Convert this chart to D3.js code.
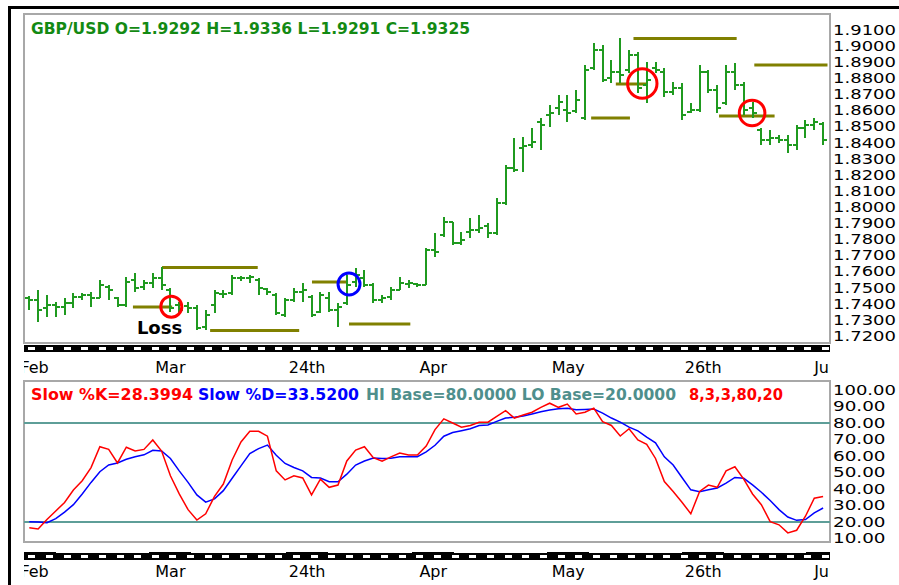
<!DOCTYPE html>
<html>
<head>
<meta charset="utf-8">
<script src="https://cdn.jsdelivr.net/npm/d3@7"></script>
<style>
  body { margin: 0; background: #fff; }
  svg { display: block; }
  text { font-family: "DejaVu Sans", Verdana, sans-serif; }
</style>
</head>
<body>
<svg id="chart"></svg>
<script>
// GBP/USD daily bars (bar index 0 .. 90)
const opens = [
  1.7436, 1.7423, 1.7374, 1.7392, 1.7380, 1.7405, 1.7442, 1.7455, 1.7436, 1.7504,
  1.7436, 1.7392, 1.7548, 1.7504, 1.7529, 1.7560, 1.7486, 1.7392, 1.7386, 1.7374,
  1.7256, 1.7392, 1.7461, 1.7467, 1.7560, 1.7560, 1.7548, 1.7492, 1.7455, 1.7330,
  1.7423, 1.7473, 1.7442, 1.7349, 1.7436, 1.7361, 1.7405, 1.7535, 1.7560, 1.7517,
  1.7423, 1.7442, 1.7486, 1.7523, 1.7523, 1.7517, 1.7734, 1.7827, 1.7908, 1.7777,
  1.7846, 1.7858, 1.7883, 1.7839, 1.8026, 1.8243, 1.8367, 1.8386, 1.8529, 1.8572,
  1.8616, 1.8603, 1.8597, 1.8554, 1.8864, 1.8976, 1.8802, 1.8839, 1.8852, 1.8945,
  1.8759, 1.8864, 1.8839, 1.8715, 1.8740, 1.8591, 1.8603, 1.8839, 1.8727, 1.8647,
  1.8839, 1.8759, 1.8616, 1.8479, 1.8417, 1.8429, 1.8417, 1.8386, 1.8491, 1.8510,
  1.8516
];
const highs = [
  1.7448, 1.7486, 1.7455, 1.7411, 1.7436, 1.7467, 1.7467, 1.7473, 1.7548, 1.7517,
  1.7442, 1.7566, 1.7591, 1.7548, 1.7591, 1.7628, 1.7498, 1.7411, 1.7411, 1.7392,
  1.7361, 1.7486, 1.7486, 1.7579, 1.7572, 1.7579, 1.7560, 1.7498, 1.7467, 1.7436,
  1.7498, 1.7529, 1.7455, 1.7473, 1.7473, 1.7405, 1.7579, 1.7622, 1.7610, 1.7529,
  1.7455, 1.7504, 1.7566, 1.7548, 1.7529, 1.7746, 1.7839, 1.7939, 1.7908, 1.7846,
  1.7933, 1.7951, 1.7902, 1.8057, 1.8262, 1.8429, 1.8436, 1.8491, 1.8554, 1.8634,
  1.8696, 1.8696, 1.8727, 1.8883, 1.9019, 1.9007, 1.8914, 1.9050, 1.8976, 1.8963,
  1.8901, 1.8901, 1.8864, 1.8777, 1.8771, 1.8647, 1.8883, 1.8852, 1.8759, 1.8883,
  1.8895, 1.8777, 1.8653, 1.8491, 1.8479, 1.8448, 1.8448, 1.8510, 1.8541, 1.8554,
  1.8529
];
const lows = [
  1.7361, 1.7287, 1.7318, 1.7318, 1.7330, 1.7374, 1.7423, 1.7380, 1.7436, 1.7423,
  1.7380, 1.7380, 1.7473, 1.7486, 1.7498, 1.7486, 1.7349, 1.7343, 1.7343, 1.7237,
  1.7237, 1.7343, 1.7436, 1.7455, 1.7542, 1.7529, 1.7455, 1.7455, 1.7330, 1.7318,
  1.7411, 1.7411, 1.7318, 1.7343, 1.7349, 1.7256, 1.7392, 1.7504, 1.7504, 1.7405,
  1.7405, 1.7423, 1.7486, 1.7498, 1.7504, 1.7517, 1.7690, 1.7815, 1.7765, 1.7765,
  1.7808, 1.7839, 1.7808, 1.7827, 1.8013, 1.8218, 1.8218, 1.8367, 1.8355, 1.8498,
  1.8572, 1.8529, 1.8585, 1.8541, 1.8852, 1.8777, 1.8771, 1.8771, 1.8833, 1.8709,
  1.8647, 1.8833, 1.8684, 1.8696, 1.8541, 1.8585, 1.8591, 1.8709, 1.8585, 1.8634,
  1.8727, 1.8572, 1.8554, 1.8386, 1.8386, 1.8398, 1.8336, 1.8355, 1.8429, 1.8479,
  1.8386
];
const closes = [
  1.7423, 1.7361, 1.7392, 1.7380, 1.7405, 1.7442, 1.7455, 1.7436, 1.7517, 1.7486,
  1.7392, 1.7535, 1.7498, 1.7529, 1.7560, 1.7517, 1.7374, 1.7361, 1.7374, 1.7249,
  1.7330, 1.7467, 1.7461, 1.7560, 1.7560, 1.7566, 1.7498, 1.7473, 1.7343, 1.7423,
  1.7473, 1.7486, 1.7330, 1.7455, 1.7361, 1.7380, 1.7517, 1.7579, 1.7517, 1.7423,
  1.7436, 1.7486, 1.7529, 1.7529, 1.7517, 1.7734, 1.7721, 1.7908, 1.7777, 1.7796,
  1.7858, 1.7871, 1.7839, 1.8026, 1.8243, 1.8231, 1.8380, 1.8405, 1.8510, 1.8585,
  1.8653, 1.8585, 1.8665, 1.8852, 1.8976, 1.8790, 1.8839, 1.8821, 1.8945, 1.8740,
  1.8790, 1.8852, 1.8715, 1.8740, 1.8572, 1.8603, 1.8839, 1.8727, 1.8616, 1.8839,
  1.8759, 1.8603, 1.8585, 1.8417, 1.8429, 1.8417, 1.8386, 1.8491, 1.8510, 1.8529,
  1.8417
];

// slow stochastic 8,3,3
const slowK = [
  16.5, 15.8, 21.5, 26.7, 31.8, 39.4, 45, 53, 65.6, 64,
  55.8, 65.3, 63, 64, 69.7, 63, 48, 37, 27.5, 21.2,
  25, 35.5, 43, 57.6, 68.5, 75, 75, 72, 51, 45.5,
  48, 46.7, 36.4, 46, 41, 42.4, 57, 63.6, 65.6, 59,
  56.8, 59.5, 61.8, 60.6, 60.6, 66, 76, 82.5, 80, 77.5,
  78.5, 80.5, 80.5, 84, 87.5, 83, 84.8, 86.5, 89.5, 92,
  89.5, 91.5, 85.5, 86.5, 89, 80.8, 78.5, 72.1, 76.5, 69.7,
  67, 58.5, 44.5, 38.5, 32, 25, 38.5, 42.4, 41, 51,
  53.5, 46, 37, 30.5, 20.2, 18.3, 13.4, 15, 23.5, 34.4,
  35.5
];
const slowD = [
  20.2, 20, 19.6, 22, 26, 30.5, 37, 44, 50.5, 54.6,
  55.8, 58, 59.5, 60.7, 63.5, 63, 58.5, 51, 44, 36.4,
  32, 34, 39, 46.5, 54, 61.5, 64.5, 66.6, 60.5, 55.5,
  53, 51, 47, 46.7, 44.4, 44.4, 49, 54.5, 57, 58.8,
  58.5, 58.7, 59.6, 59.6, 59.6, 62.5, 66.5, 72, 74.2, 75.3,
  76.5, 78.5, 78.8, 81, 83, 83.5, 84.3, 85.5, 86.8, 87.9,
  88.6, 89, 88, 88.2, 88.5, 86, 83, 80.5, 77.5, 75.2,
  71.5, 68, 59.5, 54.5, 47, 39.5, 38.4, 39.5, 40.6, 43.5,
  47, 46.5, 42.5, 38, 33, 27.5, 23, 21, 21.5, 25.5,
  28.5
];
const hiBase = 80, loBase = 20;

const dateLabels = ['Feb', 'Mar', '24th', 'Apr', 'May', '26th', 'Jun'];
const datePos = [0.6, 16, 31.5, 45.8, 61.1, 76.4, 90.4];   // in bar index
const priceTicks = [1.91, 1.90, 1.89, 1.88, 1.87, 1.86, 1.85, 1.84, 1.83, 1.82, 1.81, 1.80,
  1.79, 1.78, 1.77, 1.76, 1.75, 1.74, 1.73, 1.72];
const stochTicks = [100, 90, 80, 70, 60, 50, 40, 30, 20, 10];

// olive support / resistance levels drawn by hand on the chart
const levelFrom = [11.75, 15.05, 20.5, 32.05, 36.25, 63.7, 66.5, 68.5, 78.2, 82.2];
const levelTo = [16.2, 25.9, 30.6, 36.0, 43.2, 68.1, 70.1, 80.2, 84.5, 90.5];
const levelPrice = [1.7380, 1.7625, 1.7234, 1.7535, 1.7274, 1.8554, 1.8765, 1.9047, 1.8566, 1.8883];

// ringed bars
const markAt = [16.1, 36.25, 69.5, 81.95];
const markPrice = [1.7382, 1.7523, 1.8768, 1.8585];
const markStyle = [
  { color: '#ff0000', r: 10.5 },
  { color: '#0000ff', r: 11 },
  { color: '#ff0000', r: 14.7 },
  { color: '#ff0000', r: 12.8 }
];

const width = 899, height = 585;
const plotLeft = 24, plotRight = 830;
const priceTop = 14, priceBottom = 343;
const stochTop = 381, stochBottom = 542;
const barColor = '#1f9a1f';
const olive = '#808000';
const teal = '#5e9e98';

const x = d3.scaleLinear().domain([0, 90]).range([29.3, 823.1]);
const y = d3.scaleLinear().domain([1.72, 1.91]).range([336, 30]);
const yS = d3.scaleLinear().domain([10, 100]).range([538.5, 390]);

const svg = d3.select('#chart')
  .attr('width', width)
  .attr('height', height)
  .attr('viewBox', [0, 0, width, height]);

const defs = svg.append('defs');
defs.append('clipPath').attr('id', 'clipPrice').append('rect')
  .attr('x', plotLeft).attr('y', priceTop).attr('width', plotRight - plotLeft).attr('height', priceBottom - priceTop);
defs.append('clipPath').attr('id', 'clipStoch').append('rect')
  .attr('x', plotLeft).attr('y', stochTop).attr('width', plotRight - plotLeft).attr('height', stochBottom - stochTop);
defs.append('clipPath').attr('id', 'clipDates').append('rect')
  .attr('x', plotLeft).attr('y', 0).attr('width', plotRight - plotLeft).attr('height', height);

// black frame, only left and top edges show
svg.append('rect').attr('x', 8).attr('y', 6).attr('width', 3).attr('height', height - 6).attr('fill', '#000');
svg.append('rect').attr('x', 8).attr('y', 6).attr('width', width - 8).attr('height', 3).attr('fill', '#000');

function panel(top, bottom) {
  svg.append('rect')
    .attr('x', plotLeft).attr('y', top)
    .attr('width', plotRight - plotLeft).attr('height', bottom - top)
    .attr('fill', '#fff').attr('stroke', '#a8a8a8').attr('stroke-width', 2);
}
panel(priceTop, priceBottom);
panel(stochTop, stochBottom);

/** ########## PRICE PANEL ########## */
const bars = d3.range(opens.length).map((i) => ({ i, o: opens[i], h: highs[i], l: lows[i], c: closes[i] }));

const gPrice = svg.append('g').attr('clip-path', 'url(#clipPrice)');

gPrice.append('g')
  .attr('stroke', olive).attr('stroke-width', 3)
  .selectAll('line')
  .data(levelPrice)
  .join('line')
  .attr('x1', (d, i) => x(levelFrom[i]))
  .attr('x2', (d, i) => x(levelTo[i]))
  .attr('y1', (d) => y(d))
  .attr('y2', (d) => y(d));

gPrice.append('g')
  .attr('stroke', barColor).attr('stroke-width', 2).attr('fill', 'none')
  .attr('shape-rendering', 'crispEdges')
  .selectAll('path')
  .data(bars)
  .join('path')
  .attr('d', (d) => {
    const cx = Math.round(x(d.i));
    return `M${cx},${y(d.h)}V${y(d.l)}M${cx - 4},${Math.round(y(d.o))}H${cx}M${cx},${Math.round(y(d.c))}H${cx + 4}`;
  });

gPrice.append('g')
  .attr('fill', 'none').attr('stroke-width', 3)
  .selectAll('circle')
  .data(markPrice)
  .join('circle')
  .attr('cx', (d, i) => x(markAt[i]))
  .attr('cy', (d) => y(d))
  .attr('r', (d, i) => markStyle[i].r)
  .attr('stroke', (d, i) => markStyle[i].color);

svg.append('text')
  .attr('x', x(12.2)).attr('y', y(1.7211))
  .attr('font-size', 18).attr('font-weight', 'bold').attr('fill', '#000')
  .text('Loss');

svg.append('text')
  .attr('x', 31).attr('y', 34)
  .attr('font-size', 15).attr('font-weight', 'bold').attr('fill', '#138a13')
  .attr('textLength', 439).attr('lengthAdjust', 'spacingAndGlyphs')
  .text('GBP/USD O=1.9292 H=1.9336 L=1.9291 C=1.9325');

function styleAxis(g) {
  g.select('.domain').remove();
  g.selectAll('text')
    .attr('font-size', 13.5)
    .attr('font-family', '"DejaVu Sans", Verdana, sans-serif')
    .attr('fill', '#000')
    .attr('textLength', function () { return this.textContent.length * 10.5; })
    .attr('lengthAdjust', 'spacingAndGlyphs');
}

svg.append('g')
  .attr('transform', `translate(${plotRight},0)`)
  .call(d3.axisRight(y).tickValues(priceTicks).tickFormat(d3.format('.4f')).tickSize(0).tickPadding(3))
  .call(styleAxis);

/** ########## TIME STRIPS ########## */
function timeStrip(top, dashY, withBlocks) {
  const g = svg.append('g').attr('shape-rendering', 'crispEdges');
  g.append('rect').attr('x', plotLeft).attr('y', top).attr('width', plotRight - plotLeft).attr('height', 7).attr('fill', '#000');
  if (withBlocks) {
    g.append('g').attr('clip-path', 'url(#clipDates)')
      .selectAll('rect')
      .data(datePos)
      .join('rect')
      .attr('x', (d) => x(d) - 21)
      .attr('y', top - 1)
      .attr('width', 42)
      .attr('height', 2)
      .attr('fill', '#000');
  }
  g.append('g')
    .selectAll('rect')
    .data(d3.range(0, opens.length, 2))
    .join('rect')
    .attr('x', (d) => Math.round(x(d)) - 1)
    .attr('y', dashY)
    .attr('width', 7)
    .attr('height', 3)
    .attr('fill', '#fff');
}
timeStrip(345, 347, false);
timeStrip(553, 555, true);

function dateRow(base) {
  svg.append('g').attr('clip-path', 'url(#clipDates)')
    .selectAll('text')
    .data(dateLabels)
    .join('text')
    .attr('x', (d, i) => x(datePos[i]))
    .attr('y', base)
    .attr('text-anchor', 'middle')
    .attr('font-size', 16)
    .attr('fill', '#000')
    .text((d) => d);
}
dateRow(373);
dateRow(577);

/** ########## STOCHASTIC PANEL ########## */
const gStoch = svg.append('g').attr('clip-path', 'url(#clipStoch)');

gStoch.append('g')
  .attr('stroke', teal).attr('stroke-width', 2)
  .selectAll('line')
  .data([hiBase, loBase])
  .join('line')
  .attr('x1', plotLeft).attr('x2', plotRight)
  .attr('y1', (d) => yS(d)).attr('y2', (d) => yS(d));

const line = d3.line().x((d, i) => x(i)).y((d) => yS(d));
gStoch.append('path').datum(slowD)
  .attr('fill', 'none').attr('stroke', '#0000ff').attr('stroke-width', 1.5).attr('d', line);
gStoch.append('path').datum(slowK)
  .attr('fill', 'none').attr('stroke', '#ff0000').attr('stroke-width', 1.5).attr('d', line);

const stochHead = [
  { text: 'Slow %K=28.3994', color: '#ff0000', x: 31, w: 162 },
  { text: 'Slow %D=33.5200', color: '#0000ff', x: 198, w: 161 },
  { text: 'HI Base=80.0000 LO Base=20.0000', color: '#4f8f8c', x: 366, w: 310 },
  { text: '8,3,3,80,20', color: '#ff0000', x: 689, w: 94 }
];
svg.append('g')
  .selectAll('text')
  .data(stochHead)
  .join('text')
  .attr('x', (d) => d.x).attr('y', 400)
  .attr('font-size', 15).attr('font-weight', 'bold')
  .attr('fill', (d) => d.color)
  .attr('textLength', (d) => d.w).attr('lengthAdjust', 'spacingAndGlyphs')
  .text((d) => d.text);

svg.append('g')
  .attr('transform', `translate(${plotRight},0)`)
  .call(d3.axisRight(yS).tickValues(stochTicks).tickFormat(d3.format('.2f')).tickSize(0).tickPadding(3))
  .call(styleAxis);
</script>
</body>
</html>
